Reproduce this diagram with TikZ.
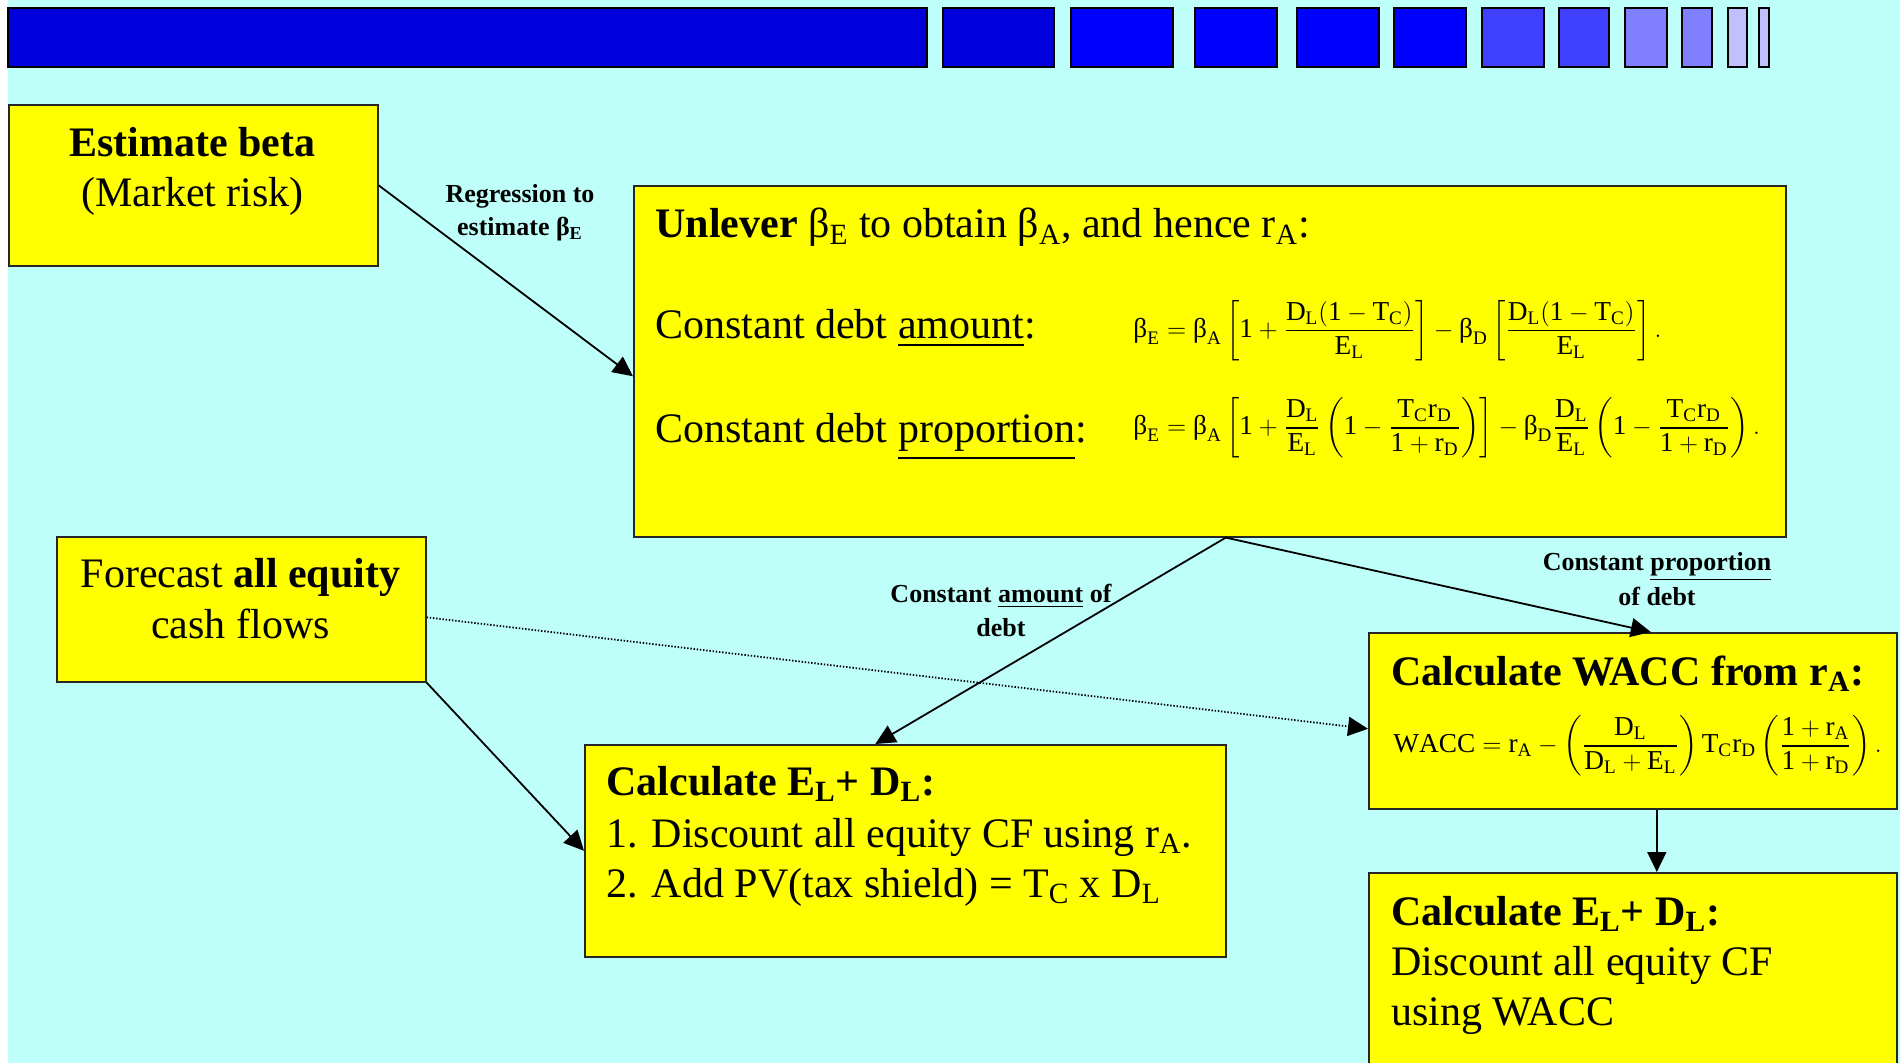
\documentclass[tikz,border=0pt]{standalone}
\usepackage{amsmath}
\usepackage{fontspec}
\setmainfont{Liberation Serif}
\usetikzlibrary{arrows.meta,calc,positioning}
\newcommand{\subt}[1]{\textsubscript{#1}}
\newcommand{\ub}{\mbox{β}}
\newcommand{\eqbox}[1]{\scalebox{1.05}{$\displaystyle\mathrm{#1}$}}
\definecolor{sky}{RGB}{190,255,250}
\definecolor{lemon}{RGB}{255,255,0}
\definecolor{barA}{RGB}{0,0,221}
\definecolor{barB}{RGB}{0,0,255}
\definecolor{barC}{RGB}{64,64,255}
\definecolor{barD}{RGB}{128,128,255}
\definecolor{barE}{RGB}{192,192,255}
\tikzset{
  box/.style={draw=black!85, line width=0.8pt, fill=lemon, inner sep=0pt, anchor=north west},
  link/.style={-{Triangle[length=10pt,width=9.5pt]}, line width=0.9pt},
  dotlink/.style={link, dash pattern=on 0.7pt off 0.9pt},
  big/.style={font=\fontsize{21}{25}\selectfont, inner sep=0pt},
  tag/.style={font=\fontsize{13}{16}\selectfont\bfseries, inner sep=0pt, anchor=base},
  eqn/.style={font=\fontsize{13}{15}\selectfont, inner sep=0pt, anchor=west},
}

\begin{document}
\begin{tikzpicture}[x=0.5pt, y=-0.5pt]
  \useasboundingbox (0,0) rectangle (1900,1063);
  \clip (0,0) rectangle (1900,1063);
  \fill[white] (0,0) rectangle (1900,1063);
  \fill[sky] (8,0) rectangle (1900,1063);
  % title bar blocks
  \foreach \xa/\xb/\col in {8/927/barA, 943/1054/barA, 1071/1173/barB, 1195/1277/barB,
      1297/1379/barB, 1394/1466/barB, 1482/1544/barC, 1559/1609/barC,
      1625/1667/barD, 1682/1712/barD, 1728/1747/barE, 1759/1769/barE}
    \draw[fill=\col, line width=1.2pt] (\xa,8) rectangle (\xb,67);

  % boxes
  \node[box, minimum width=184.5pt, minimum height=80.5pt] (beta) at (8,104) {};
  \node[box, minimum width=576pt, minimum height=175.5pt] (unlev) at (633,185) {};
  \node[box, minimum width=184.5pt, minimum height=72.5pt] (fcast) at (56,536) {};
  \node[box, minimum width=320.5pt, minimum height=106pt] (pvadj) at (584,744) {};
  \node[box, minimum width=264pt, minimum height=88pt] (wacc) at (1368,632) {};
  \node[box, minimum width=264pt, minimum height=104pt] (pvwacc) at (1368,872) {};

  % estimate beta
  \node[big, anchor=base] (betaA) at (192.5,157) {\textbf{Estimate beta}};
  \node[big, anchor=base] (betaB) at (192.5,207) {(Market risk)};

  % unlever
  \node[big, anchor=base west] (unlevA) at (655,238)
    {\textbf{Unlever} β\subt{E} to obtain β\subt{A}, and hence r\subt{A}:};
  \node[big, anchor=base west] (unlevB) at (655,339) {Constant debt \underline{amount}:};
  \node[big, anchor=base west] (unlevC) at (655,443) {Constant debt \underline{proportion}:};
  \node[eqn] (amtEq) at (1133,331)
    {\eqbox{\ub_E=\ub_A\left[1+\frac{D_L(1-T_C)}{E_L}\right]-\ub_D\left[\frac{D_L(1-T_C)}{E_L}\right].}};
  \node[eqn] (propEq) at (1133,428)
    {\eqbox{\ub_E=\ub_A\left[1+\frac{D_L}{E_L}\left(1-\frac{T_Cr_D}{1+r_D}\right)\right]-\ub_D\frac{D_L}{E_L}\left(1-\frac{T_Cr_D}{1+r_D}\right).}};

  % forecast
  \node[big, anchor=base] (fcastA) at (240.5,588) {Forecast \textbf{all equity}};
  \node[big, anchor=base] (fcastB) at (240.5,638) {cash flows};

  % adjusted present value
  \node[big, anchor=base west] (pvadjA) at (606,795) {\textbf{Calculate E\subt{L}+ D\subt{L}:}};
  \node[big, anchor=base west] (pvadjB) at (606,847) {1. Discount all equity CF using r\subt{A}.};
  \node[big, anchor=base west] (pvadjC) at (606,897) {2. Add PV(tax shield) = T\subt{C} x D\subt{L}};

  % wacc
  \node[big, anchor=base west] (waccA) at (1391,685) {\textbf{Calculate WACC from r\subt{A}:}};
  \node[eqn] (waccEq) at (1393,746)
    {\eqbox{WACC=r_A-\left(\frac{D_L}{D_L+E_L}\right)T_Cr_D\left(\frac{1+r_A}{1+r_D}\right).}};
  \node[big, anchor=base west] (pvwaccA) at (1391,925) {\textbf{Calculate E\subt{L}+ D\subt{L}:}};
  \node[big, anchor=base west] (pvwaccB) at (1391,975) {Discount all equity CF};
  \node[big, anchor=base west] (pvwaccC) at (1391,1025) {using WACC};

  % connector labels
  \node[tag] (regA) at (520,203) {Regression to};
  \node[tag] (regB) at (520,236) {estimate β\subt{E}};
  \node[tag] (amtA) at (1001,603) {Constant \underline{amount} of};
  \node[tag] (amtB) at (1001,636) {debt};
  \node[tag] (propA) at (1657,571) {Constant \underline{proportion}};
  \node[tag] (propB) at (1657,605) {of debt};

  % connectors
  \coordinate (split) at ($(unlev.south)+(16,0)$);
  \draw[link] (beta.east) -- ($(unlev.west)+(0,15)$);
  \draw[link] (split) -- ($(pvadj.north)+(-30,0)$);
  \draw[link] (split) -- ($(wacc.north)+(18,0)$);
  \draw[dotlink] ($(fcast.east)+(0,8)$) -- ($(wacc.west)+(0,8)$);
  \draw[link] (fcast.south east) -- (pvadj.west);
  \draw[link] ($(wacc.south)+(24,0)$) -- ($(pvwacc.north)+(24,0)$);
\end{tikzpicture}
\end{document}
